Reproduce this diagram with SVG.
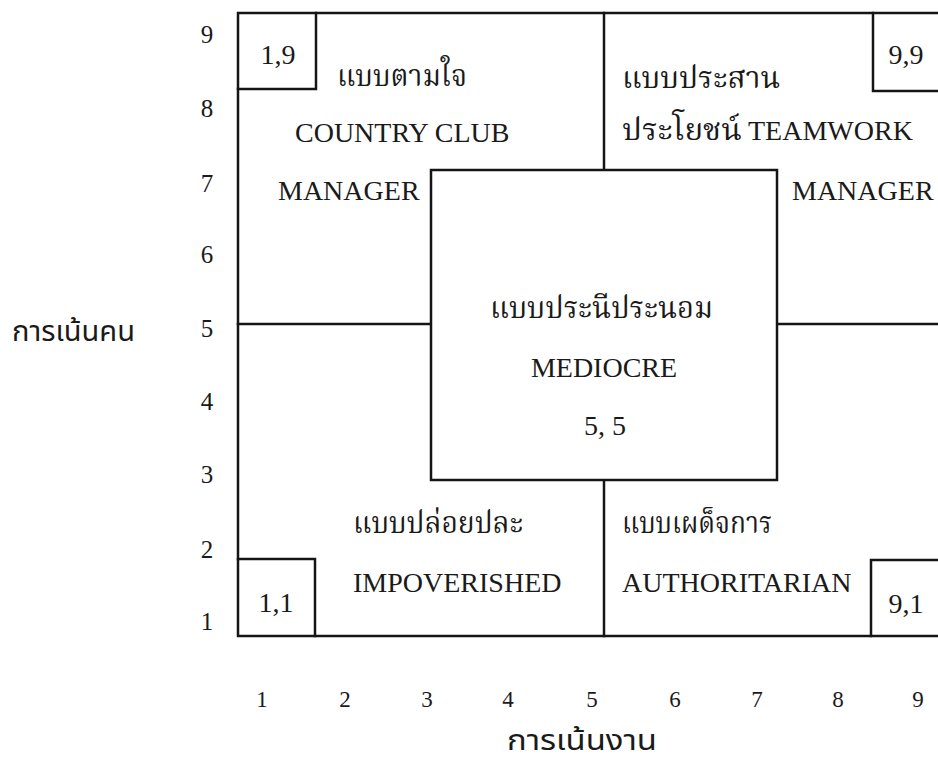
<svg xmlns="http://www.w3.org/2000/svg" width="938" height="765" viewBox="0 0 938 765">
<style>
.ln{stroke:#151515;stroke-width:2.5;fill:none;stroke-linecap:square}
.bx{stroke:#151515;stroke-width:2.5;fill:#fff}
.en{font-family:"Liberation Serif","Times New Roman",serif;font-size:28px;fill:#1a1a1a}
.th{font-family:"Liberation Serif","Noto Serif Thai","Noto Sans Thai",serif;font-size:30px;fill:#1a1a1a}
.ax{font-family:"Liberation Serif",serif;font-size:25px;fill:#1a1a1a;text-anchor:middle}
.axx{font-family:"Liberation Serif",serif;font-size:23px;fill:#1a1a1a;text-anchor:middle}
.tt{font-family:"Noto Sans Thai","Liberation Sans",sans-serif;font-size:29px;fill:#1a1a1a}
.c{text-anchor:middle}
</style>
<rect width="938" height="765" fill="#fff"/>

<g id="frame">
<path class="ln" d="M945 13 H238 V636 H945"/>
</g>

<g id="connectors">
<line class="ln" x1="604" y1="13" x2="604" y2="170"/>
<line class="ln" x1="604" y1="480" x2="604" y2="636"/>
<line class="ln" x1="238" y1="324" x2="431" y2="324"/>
<line class="ln" x1="777" y1="324" x2="945" y2="324"/>
</g>

<g id="box-1-9">
<path class="ln" d="M238 89 H316 V13"/>
<text class="en c" x="278" y="64">1,9</text>
</g>
<g id="box-9-9">
<path class="ln" d="M945 91 H873 V13"/>
<text class="en c" x="906" y="64">9,9</text>
</g>
<g id="box-1-1">
<path class="ln" d="M238 559 H315 V636"/>
<text class="en c" x="276" y="612">1,1</text>
</g>
<g id="box-9-1">
<path class="ln" d="M945 560 H871 V636"/>
<text class="en c" x="906" y="613">9,1</text>
</g>

<g id="country-club">
<text class="th" x="337" y="86" textLength="130" lengthAdjust="spacingAndGlyphs">แบบตามใจ</text>
<text class="en" x="295" y="142">COUNTRY CLUB</text>
<text class="en" x="278" y="200">MANAGER</text>
</g>

<g id="teamwork">
<text class="th" x="622" y="88">แบบประสาน</text>
<text x="622" y="140"><tspan class="th" textLength="120" lengthAdjust="spacingAndGlyphs">ประโยชน์</tspan><tspan class="en" x="748">TEAMWORK</tspan></text>
<text class="en" x="792" y="200">MANAGER</text>
</g>

<g id="mediocre">
<rect class="bx" x="431" y="170" width="346" height="310"/>
<text class="th" x="490" y="318" textLength="223" lengthAdjust="spacingAndGlyphs">แบบประนีประนอม</text>
<text class="en c" x="604" y="377">MEDIOCRE</text>
<text class="en c" x="605" y="435">5, 5</text>
</g>

<g id="impoverished">
<text class="th" x="353" y="533" textLength="170" lengthAdjust="spacingAndGlyphs">แบบปล่อยปละ</text>
<text class="en" x="353" y="592">IMPOVERISHED</text>
</g>

<g id="authoritarian">
<text class="th" x="622" y="533" textLength="150" lengthAdjust="spacingAndGlyphs">แบบเผด็จการ</text>
<text class="en" x="622" y="592">AUTHORITARIAN</text>
</g>

<g id="y-axis">
<text class="ax" x="207" y="43">9</text>
<text class="ax" x="207" y="117">8</text>
<text class="ax" x="207" y="192">7</text>
<text class="ax" x="207" y="263">6</text>
<text class="ax" x="207" y="337">5</text>
<text class="ax" x="207" y="410">4</text>
<text class="ax" x="207" y="483">3</text>
<text class="ax" x="207" y="558">2</text>
<text class="ax" x="207" y="630">1</text>
<text class="tt" x="12" y="341" textLength="123" lengthAdjust="spacingAndGlyphs">การเน้นคน</text>
</g>

<g id="x-axis">
<text class="axx" x="262" y="707">1</text>
<text class="axx" x="345" y="707">2</text>
<text class="axx" x="427" y="707">3</text>
<text class="axx" x="508" y="707">4</text>
<text class="axx" x="592" y="707">5</text>
<text class="axx" x="675" y="707">6</text>
<text class="axx" x="757" y="707">7</text>
<text class="axx" x="838" y="707">8</text>
<text class="axx" x="918" y="707">9</text>
<text class="tt" x="507" y="750" textLength="150" lengthAdjust="spacingAndGlyphs">การเน้นงาน</text>
</g>
</svg>
